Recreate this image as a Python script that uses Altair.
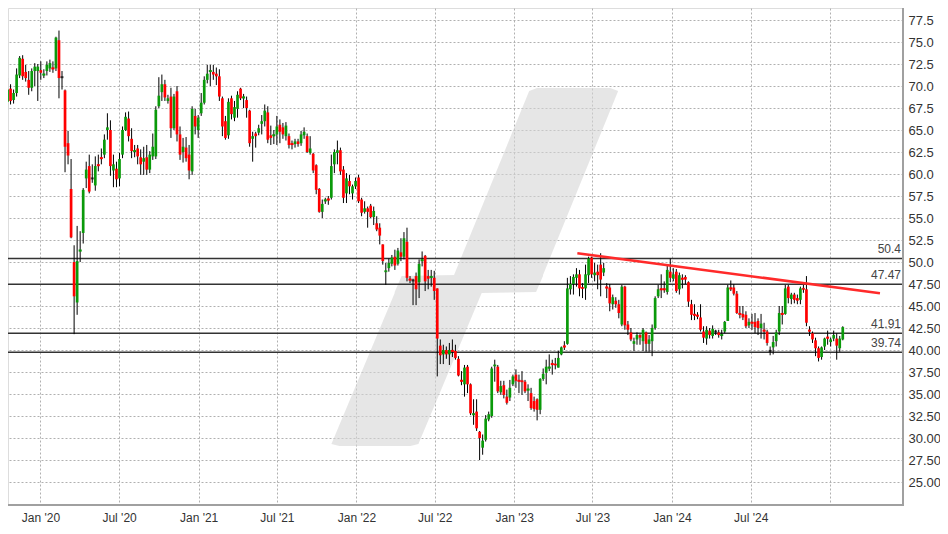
import altair as alt
import pandas as pd

# ---------------- data ----------------
start_date = "2019-10-17"   # first weekly candle

opens = [68.2, 69.7, 68.4, 69.2, 71.2, 73.1, 71.6, 70.7, 69.8, 71.7, 71.7, 71.8, 71.2, 71.7, 72.0, 72.1, 72.0, 75.2, 71.0, 69.5,
         63.5, 58.3, 50.0, 45.4, 51.2, 53.3, 59.5, 60.9, 59.5, 58.7, 61.1, 61.9, 62.2, 65.0, 65.0, 60.4, 60.6, 59.5, 62.2, 65.0,
         66.3, 64.0, 62.5, 62.9, 61.9, 61.4, 61.9, 60.5, 62.0, 62.0, 67.7, 69.3, 70.2, 68.3, 68.8, 65.2, 69.4, 64.5, 62.5, 63.0,
         62.2, 60.3, 66.6, 65.0, 66.9, 68.1, 70.7, 71.6, 71.6, 71.4, 71.1, 68.6, 66.0, 64.4, 68.6, 66.4, 67.4, 69.7, 68.6, 68.4,
         67.2, 64.0, 64.6, 64.7, 65.7, 66.0, 67.0, 64.4, 64.3, 64.5, 65.6, 65.3, 64.3, 64.3, 63.5, 63.4, 63.7, 63.5, 64.4, 64.3,
         62.4, 62.3, 61.0, 58.3, 55.7, 56.9, 57.2, 57.3, 61.1, 62.4, 62.7, 60.5, 57.8, 59.2, 57.8, 58.6, 59.6, 57.1, 55.7, 56.1,
         56.4, 55.1, 54.4, 53.9, 52.0, 48.9, 49.3, 49.8, 50.6, 49.8, 51.1, 50.6, 52.3, 48.1, 47.9, 48.4, 47.7, 50.1, 50.7, 48.4,
         48.2, 48.2, 47.0, 40.5, 39.5, 40.0, 39.5, 40.0, 39.9, 39.0, 36.6, 36.1, 38.1, 36.1, 32.6, 33.0, 30.7, 28.9, 29.8, 32.1,
         32.5, 38.2, 38.1, 35.2, 36.0, 34.7, 34.6, 36.1, 37.2, 36.6, 36.5, 36.4, 35.4, 35.1, 34.2, 34.4, 33.2, 36.7, 37.4, 37.9,
         38.5, 38.4, 38.0, 39.5, 40.5, 40.7, 46.9, 47.5, 48.2, 48.6, 47.1, 47.0, 48.5, 50.5, 48.5, 48.9, 49.7, 48.8, 47.2, 47.1,
         45.2, 45.6, 45.2, 42.9, 47.2, 42.9, 42.0, 40.7, 41.2, 41.7, 41.0, 42.0, 40.7, 41.0, 42.5, 46.1, 47.0, 47.0, 46.6, 48.9,
         48.1, 48.9, 46.9, 48.2, 48.3, 47.7, 45.2, 44.1, 44.0, 43.7, 42.1, 41.3, 42.2, 41.6, 42.1, 42.0, 41.6, 42.1, 43.3, 47.1,
         47.1, 46.4, 44.2, 44.1, 44.0, 42.8, 43.2, 43.2, 43.3, 42.5, 42.3, 42.1, 39.9, 40.3, 41.0, 42.1, 44.2, 44.1, 47.2, 45.8,
         46.3, 45.9, 45.7, 47.0, 46.9, 42.3, 41.9, 41.1, 40.2, 39.2, 40.4, 41.5, 40.9, 41.3, 41.3, 40.2, 41.2]

highs = [70.9, 70.2, 69.6, 72.0, 73.4, 73.5, 72.4, 71.7, 72.0, 72.6, 72.5, 72.8, 71.9, 72.8, 73.0, 72.8, 75.6, 76.3, 71.7, 69.6,
         64.9, 61.7, 51.9, 54.1, 53.5, 58.4, 61.4, 62.2, 61.1, 62.0, 62.2, 62.9, 64.5, 66.9, 66.1, 62.2, 61.4, 62.4, 65.4, 67.0,
         67.1, 65.2, 63.3, 63.3, 62.8, 63.1, 63.3, 62.6, 64.6, 67.7, 71.0, 71.3, 70.7, 69.0, 69.8, 69.1, 70.0, 65.4, 64.1, 64.2,
         63.3, 67.7, 67.4, 66.7, 69.2, 71.1, 72.4, 72.4, 72.4, 72.1, 71.9, 68.8, 66.6, 68.6, 68.9, 68.3, 69.4, 69.8, 69.1, 68.8,
         67.3, 64.8, 64.8, 65.6, 66.7, 67.9, 67.7, 65.5, 65.0, 66.6, 66.2, 65.8, 65.9, 64.6, 63.8, 64.0, 64.0, 64.9, 65.3, 64.6,
         64.3, 62.4, 61.1, 58.4, 57.1, 57.3, 57.5, 62.2, 62.8, 63.8, 63.0, 60.9, 60.1, 59.9, 58.8, 59.6, 59.9, 57.3, 56.9, 56.3,
         56.6, 56.3, 55.2, 54.4, 52.0, 49.9, 50.4, 50.8, 51.4, 51.6, 52.7, 53.4, 53.9, 48.4, 48.1, 48.8, 50.3, 51.2, 50.8, 49.1,
         49.1, 49.0, 47.0, 41.2, 40.6, 40.4, 40.8, 41.2, 40.6, 39.3, 37.6, 38.3, 38.3, 36.2, 34.4, 34.4, 30.8, 30.4, 32.6, 33.0,
         38.1, 38.9, 38.3, 36.5, 36.5, 35.5, 36.6, 37.2, 37.8, 37.2, 37.6, 36.6, 36.1, 35.7, 34.7, 34.5, 36.8, 37.9, 38.9, 39.5,
         38.9, 39.1, 39.9, 40.4, 41.0, 48.2, 48.4, 48.6, 49.3, 49.1, 47.6, 49.7, 50.6, 50.6, 49.9, 49.7, 51.0, 49.9, 47.6, 47.5,
         46.3, 46.0, 45.7, 47.4, 47.3, 43.3, 42.5, 41.4, 42.0, 41.8, 42.5, 42.1, 41.7, 42.9, 46.1, 47.4, 48.6, 47.8, 49.7, 50.4,
         49.3, 49.2, 48.8, 48.6, 48.5, 47.8, 45.7, 45.2, 44.3, 45.2, 42.7, 42.7, 42.5, 42.8, 42.3, 42.3, 42.3, 43.3, 47.4, 47.9,
         47.5, 46.7, 45.0, 45.0, 44.4, 43.6, 44.1, 44.2, 43.6, 44.1, 43.1, 42.3, 40.4, 41.6, 42.3, 45.0, 45.0, 47.4, 47.4, 46.5,
         46.5, 46.3, 47.2, 47.4, 48.4, 42.7, 42.1, 41.4, 40.4, 40.4, 41.4, 42.2, 41.4, 42.2, 41.9, 41.6, 42.7]

lows = [67.3, 67.9, 68.0, 68.8, 70.9, 70.7, 70.5, 69.0, 69.4, 70.0, 68.3, 70.7, 70.9, 71.2, 71.6, 71.5, 71.7, 68.6, 69.6, 60.2,
        61.1, 52.7, 41.8, 44.0, 50.0, 52.1, 58.4, 57.8, 59.0, 58.1, 60.3, 61.1, 61.8, 63.9, 59.8, 58.5, 58.5, 58.6, 61.8, 64.9,
        63.7, 61.8, 61.9, 61.1, 59.9, 59.9, 59.9, 60.1, 61.6, 61.7, 67.5, 68.3, 68.3, 68.0, 64.1, 65.0, 63.7, 61.6, 61.3, 61.4,
        59.4, 59.9, 64.5, 64.1, 66.6, 67.9, 70.3, 70.0, 70.7, 70.1, 68.3, 64.3, 63.9, 64.0, 66.2, 66.0, 66.4, 68.4, 67.5, 66.4,
        63.1, 61.4, 63.0, 64.4, 64.5, 65.4, 63.5, 63.3, 63.4, 63.3, 63.5, 64.0, 63.8, 62.9, 62.8, 63.0, 63.1, 63.2, 64.0, 62.4,
        62.2, 60.1, 57.7, 55.6, 55.0, 56.6, 56.5, 57.1, 60.1, 61.1, 59.9, 56.7, 56.7, 57.7, 57.1, 58.3, 56.7, 55.2, 55.5, 53.9,
        55.0, 54.2, 53.5, 52.0, 49.7, 47.4, 48.9, 49.5, 49.1, 49.6, 50.1, 50.3, 47.8, 47.6, 45.1, 45.1, 45.9, 49.5, 46.7, 46.9,
        47.2, 45.7, 37.0, 38.4, 38.4, 39.0, 38.3, 39.2, 38.9, 37.0, 36.0, 34.7, 35.1, 32.6, 31.5, 30.8, 27.5, 28.1, 29.6, 31.9,
        32.3, 36.4, 35.1, 34.9, 34.5, 33.8, 34.2, 35.9, 35.7, 35.1, 34.9, 35.1, 34.2, 33.2, 33.0, 32.0, 32.7, 36.5, 36.1, 37.6,
        37.2, 37.8, 38.0, 39.4, 40.0, 40.6, 46.3, 46.3, 47.2, 46.1, 45.9, 45.7, 47.6, 48.2, 47.8, 46.9, 46.1, 48.4, 45.9, 44.4,
        44.6, 44.8, 43.6, 42.7, 42.3, 41.7, 41.0, 39.9, 40.6, 40.6, 39.9, 39.8, 39.8, 39.3, 42.3, 45.9, 45.9, 46.5, 46.3, 47.7,
        47.8, 46.5, 46.3, 47.0, 47.5, 44.9, 43.4, 43.4, 43.5, 42.1, 40.8, 40.6, 41.3, 41.3, 41.7, 41.4, 41.2, 41.9, 43.3, 46.7,
        46.2, 44.1, 43.6, 43.4, 42.5, 42.5, 42.3, 41.9, 41.7, 41.3, 41.2, 40.5, 39.4, 39.5, 40.4, 41.7, 42.9, 44.0, 45.3, 45.2,
        45.3, 45.2, 45.2, 46.5, 42.7, 41.6, 40.8, 39.3, 38.7, 38.9, 40.0, 40.6, 40.4, 41.0, 38.9, 39.8, 41.1]

closes = [69.6, 68.3, 69.2, 71.3, 73.2, 71.1, 70.9, 69.8, 71.7, 72.2, 72.2, 71.5, 71.4, 72.4, 72.6, 71.9, 75.5, 70.9, 71.0, 63.1,
          62.1, 52.8, 46.1, 50.1, 51.4, 58.2, 60.5, 58.0, 59.5, 60.9, 60.9, 61.7, 63.9, 65.3, 60.9, 61.1, 59.4, 61.7, 65.0, 66.5,
          64.3, 62.6, 62.7, 62.0, 61.1, 61.8, 60.5, 62.2, 63.1, 67.3, 68.9, 70.2, 68.7, 68.6, 65.2, 68.8, 64.5, 62.2, 63.1, 61.8,
          60.4, 67.4, 65.4, 66.4, 68.1, 70.7, 71.4, 71.8, 71.3, 71.1, 68.8, 65.4, 64.1, 68.2, 66.8, 67.6, 69.0, 68.6, 68.8, 67.5,
          63.5, 64.3, 64.3, 65.2, 66.0, 67.2, 63.9, 64.1, 64.5, 65.4, 64.8, 64.5, 65.5, 63.3, 63.3, 63.7, 63.4, 64.5, 64.8, 62.5,
          62.9, 60.4, 58.2, 55.7, 56.6, 57.1, 57.0, 60.9, 62.5, 62.7, 60.3, 57.3, 59.5, 58.6, 58.6, 59.2, 56.9, 55.6, 56.1, 55.7,
          55.1, 55.8, 53.7, 53.0, 50.1, 49.0, 49.9, 50.5, 49.6, 51.3, 50.6, 52.7, 48.2, 47.9, 47.9, 46.9, 49.8, 50.3, 47.8, 48.1,
          48.4, 46.7, 41.3, 39.4, 40.0, 39.5, 40.0, 39.8, 39.1, 37.1, 36.4, 38.0, 36.1, 32.8, 32.8, 31.1, 30.0, 29.7, 32.2, 32.7,
          37.9, 38.3, 35.3, 35.9, 34.9, 34.0, 35.7, 37.0, 36.5, 36.4, 36.4, 35.3, 35.6, 33.4, 33.3, 33.2, 36.7, 37.3, 38.1, 38.1,
          38.3, 38.3, 39.1, 40.3, 40.3, 47.0, 47.5, 48.3, 48.6, 47.0, 47.0, 48.6, 50.4, 48.6, 48.8, 48.5, 48.0, 49.3, 47.0, 45.3,
          46.0, 45.2, 44.2, 47.2, 42.8, 42.3, 41.2, 41.0, 41.7, 41.4, 42.3, 40.7, 41.2, 42.5, 45.9, 46.9, 46.8, 46.8, 49.1, 48.2,
          48.6, 46.7, 48.5, 48.0, 48.0, 45.5, 44.0, 43.9, 43.8, 42.3, 41.4, 42.3, 41.7, 42.4, 42.1, 41.7, 41.8, 43.2, 47.1, 46.9,
          46.4, 44.2, 44.0, 43.7, 42.7, 43.2, 43.0, 42.6, 42.5, 43.0, 42.1, 40.8, 39.9, 40.9, 42.0, 44.2, 44.0, 47.0, 45.9, 46.3,
          45.7, 45.6, 47.0, 46.9, 43.1, 42.1, 41.2, 40.2, 39.1, 40.3, 41.3, 41.3, 41.2, 41.7, 40.5, 41.3, 42.6]

level_values = [50.4, 47.47, 41.91, 39.74]
level_labels = ["50.4", "47.47", "41.91", "39.74"]

trend_dates = ["2023-05-27", "2025-04-26"]
trend_values = [51.0, 46.45]

y_ticks = [25.0, 27.5, 30.0, 32.5, 35.0, 37.5, 40.0, 42.5, 45.0, 47.5, 50.0, 52.5,
           55.0, 57.5, 60.0, 62.5, 65.0, 67.5, 70.0, 72.5, 75.0, 77.5]
x_tick_months = [(2020, 1), (2020, 7), (2021, 1), (2021, 7), (2022, 1), (2022, 7),
                 (2023, 1), (2023, 7), (2024, 1), (2024, 7), (2025, 1)]

# ---------------- layout (reference page pixels) ----------------
MARGIN = 8                      # page margin; plot in the reference starts at page pixel 0
PLOT_RIGHT, PLOT_BOTTOM = 903, 505
W, H = PLOT_RIGHT - MARGIN, PLOT_BOTTOM - MARGIN
ORIGIN = pd.Timestamp("2020-01-01")
PX_PER_DAY = 0.4372
X0_PX = 35.7                   # Jan 1 2020 on the page
PX_PER_UNIT = 8.8
Y775_PX = 20.0                 # 77.5 on the page


def px_to_date(px):
    return ORIGIN + pd.Timedelta(days=(px - X0_PX) / PX_PER_DAY)


def px_to_val(py):
    return 77.5 - (py - Y775_PX) / PX_PER_UNIT


x_dom = [int(px_to_date(MARGIN).timestamp() * 1000), int(px_to_date(PLOT_RIGHT).timestamp() * 1000)]
y_dom = [px_to_val(PLOT_BOTTOM), px_to_val(MARGIN)]

# ---------------- tables ----------------
n = len(closes)
dates = pd.date_range(start_date, periods=n, freq="7D").strftime("%Y-%m-%d")
df = pd.DataFrame({"date": dates, "o": opens, "h": highs, "l": lows, "c": closes})
df["dir"] = ["up" if c > o else ("down" if c < o else "flat") for o, c in zip(opens, closes)]

levels = pd.DataFrame({"v": level_values, "label": level_labels})
trend = pd.DataFrame({"date": trend_dates, "v": trend_values})

# watermark (background logo) outline, page pixels: (y, left x, right x)
logo_rows = [(88, 538, 612), (91, 530, 620), (275, 454, 544), (276, 401, 544), (292, 394, 537),
             (293, 394, 482), (444, 330, 418), (446, 338, 410)]
logo = pd.DataFrame({
    "v": [px_to_val(r[0]) for r in logo_rows],
    "x1": [px_to_date(r[1]).strftime("%Y-%m-%dT%H:%M:%SZ") for r in logo_rows],
    "x2": [px_to_date(r[2]).strftime("%Y-%m-%dT%H:%M:%SZ") for r in logo_rows],
})

# ---------------- scales / axes ----------------
x_scale = alt.Scale(type="utc", domain=x_dom)
y_scale = alt.Scale(domain=y_dom, nice=False, zero=False)

x_axis = alt.Axis(
    values=[alt.DateTime(year=y, month=m, date=1, utc=True) for y, m in x_tick_months],
    labelExpr="utcyear(datum.value) >= 2025 ? '' : utcFormat(datum.value, \"%b '%y\")",
    grid=True, gridDash=[2, 2], gridColor="#b0b0b0", gridWidth=1,
    ticks=False, domain=False, title=None, labelFlush=False,
    labelFont="Liberation Sans", labelFontSize=12, labelColor="#333333", labelPadding=7,
)
y_axis = alt.Axis(
    orient="right", values=y_ticks,
    labelExpr="datum.value >= 50 ? format(datum.value, '.1f') : format(datum.value, '.2f')",
    grid=True, gridDash=[2, 2], gridColor="#b0b0b0", gridWidth=1,
    ticks=False, domain=False, title=None, labelFlush=False,
    labelFont="Liberation Sans", labelFontSize=13, labelColor="#333333", labelPadding=5,
)


def X(field="date:T"):
    return alt.X(field, scale=x_scale, axis=x_axis)


def Y(field):
    return alt.Y(field, scale=y_scale, axis=y_axis)


# ---------------- layers ----------------
watermark = alt.Chart(logo).mark_area(orient="horizontal", color="#d6d6d6", opacity=0.6).encode(
    y=alt.Y("v:Q", scale=y_scale, axis=y_axis, stack=None),
    x=alt.X("x1:T", scale=x_scale, axis=x_axis, stack=None),
    x2="x2:T",
)

level_rules = alt.Chart(levels).mark_rule(color="#333333", strokeWidth=1.5).encode(
    y=Y("v:Q")
)

wicks = alt.Chart(df).mark_rule(color="#000000", strokeWidth=1).encode(
    x=X(), y=Y("l:Q"), y2="h:Q"
)

color = alt.Color("dir:N", scale=alt.Scale(domain=["up", "down", "flat"],
                                           range=["#0a9a0a", "#ff0000", "#000000"]), legend=None)

bodies = alt.Chart(df).mark_bar(size=2.7).encode(
    x=X(), y=Y("o:Q"), y2="c:Q", color=color
)

small_bodies = alt.Chart(df).transform_filter(
    "abs(datum.c - datum.o) < 0.25"
).transform_calculate(mid="(datum.o + datum.c) / 2").mark_tick(
    orient="horizontal", thickness=2, size=3
).encode(x=X(), y=Y("mid:Q"), color=color)

trend_line = alt.Chart(trend).mark_line(color="#ff2a2a", strokeWidth=2.5).encode(
    x=X(), y=Y("v:Q")
)

level_text = alt.Chart(levels).mark_text(
    align="right", baseline="bottom", dy=-2, fontSize=12, font="Liberation Sans", color="#444444"
).encode(
    x=alt.value(PLOT_RIGHT - MARGIN - 2), y=Y("v:Q"), text="label:N"
)

# plot frame: only right and bottom edges fall inside the page area
frame_right = alt.Chart(levels).mark_rule(color="#a0a0a0", strokeWidth=2).encode(
    x=alt.value(W), y=alt.value(0), y2=alt.value(H)
)
frame_bottom = alt.Chart(levels).mark_rule(color="#a0a0a0", strokeWidth=2).encode(
    y=alt.value(H), x=alt.value(0), x2=alt.value(W + 1)
)

chart = alt.layer(
    watermark, level_rules, wicks, bodies, small_bodies, trend_line, level_text,
    frame_right, frame_bottom
).properties(
    width=W, height=H,
    autosize=alt.AutoSizeParams(type="none"),
    padding={"left": 0, "top": 0, "right": 37, "bottom": 29},
).configure_view(
    stroke="transparent", strokeWidth=0
).configure(background="white")

chart.save("out.html", embed_options={"renderer": "svg", "actions": False})
